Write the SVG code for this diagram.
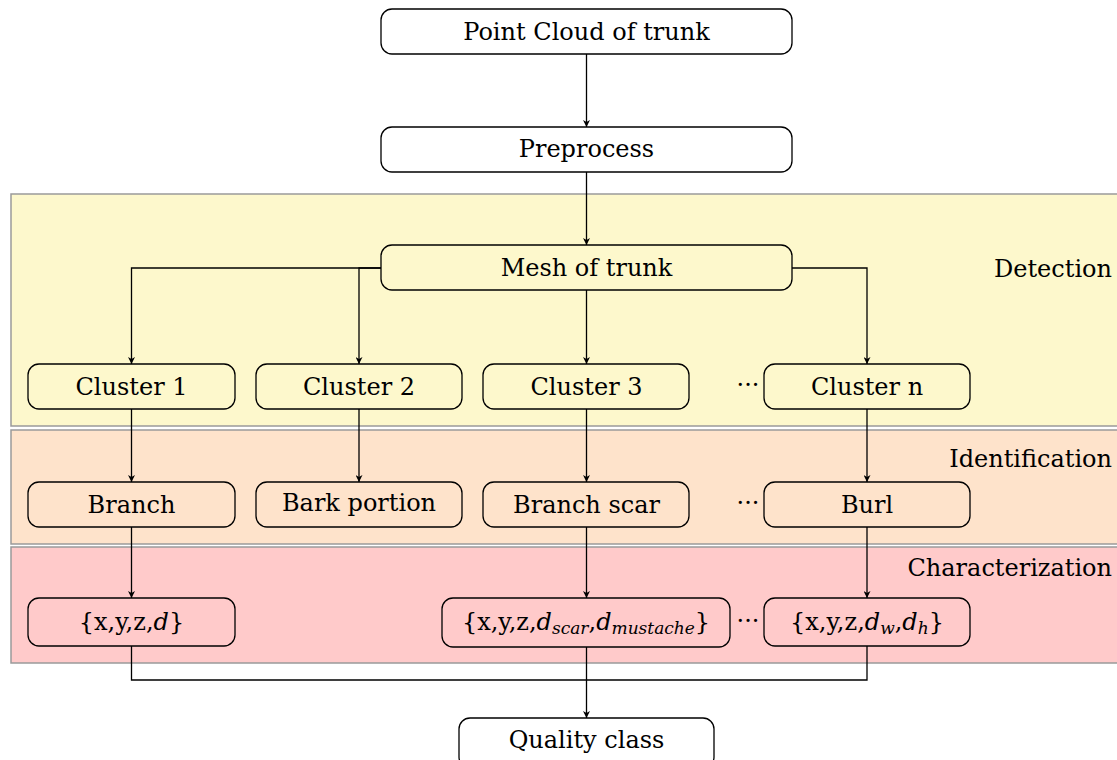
<svg xmlns="http://www.w3.org/2000/svg" width="1117" height="760" viewBox="0 0 1117 760">
<defs>
<style>
.band{stroke:#9a9a9a;stroke-width:1.5}
.node rect{stroke:#000;stroke-width:1.3}
.lbl{font-size:24px;fill:#000}
.mid{text-anchor:middle}
.end{text-anchor:end}
.c{fill:none;stroke:#000;stroke-width:1.3}
.it{font-style:italic}
.sub{font-size:17px;font-style:italic}
</style>
<marker id="ah" viewBox="0 0 10 10" refX="10" refY="5" markerWidth="8" markerHeight="7" markerUnits="userSpaceOnUse" orient="auto">
<path d="M0,0 L10,5 L0,10 L3,5 z" fill="#000"/>
</marker>
</defs>
<rect width="1117" height="760" fill="#fff"/>
<g font-family="'DejaVu Serif', 'Liberation Serif', serif">
<g id="bands">
<rect class="band" x="11" y="194" width="1130" height="232" fill="#fdf8cc"/>
<rect class="band" x="11" y="430" width="1130" height="114" fill="#fee3cb"/>
<rect class="band" x="11" y="547" width="1130" height="116" fill="#ffcaca"/>
<text class="lbl end" x="1112" y="277">Detection</text>
<text class="lbl end" x="1112" y="467">Identification</text>
<text class="lbl end" x="1112" y="576">Characterization</text>
</g>
<g id="connectors">
<path class="c" d="M586.5,54 V127" marker-end="url(#ah)"/>
<path class="c" d="M586.5,172 V245" marker-end="url(#ah)"/>
<path class="c" d="M381,268 H131.5 V364" marker-end="url(#ah)"/>
<path class="c" d="M381,268 H359 V364" marker-end="url(#ah)"/>
<path class="c" d="M586.5,290 V364" marker-end="url(#ah)"/>
<path class="c" d="M792,268 H867 V364" marker-end="url(#ah)"/>
<path class="c" d="M131.5,409 V482" marker-end="url(#ah)"/>
<path class="c" d="M359,409 V482" marker-end="url(#ah)"/>
<path class="c" d="M586.5,409 V482" marker-end="url(#ah)"/>
<path class="c" d="M867,409 V482" marker-end="url(#ah)"/>
<path class="c" d="M131.5,527 V598" marker-end="url(#ah)"/>
<path class="c" d="M586.5,527 V598" marker-end="url(#ah)"/>
<path class="c" d="M867,527 V598" marker-end="url(#ah)"/>
<path class="c" d="M131.5,646 V680 H586.5"/>
<path class="c" d="M867,646 V680 H586.5"/>
<path class="c" d="M586.5,647 V718" marker-end="url(#ah)"/>
</g>
<g id="n-pointcloud" class="node"><rect x="381" y="9" width="411" height="45" rx="11" fill="#fff"/><text class="lbl mid" x="586.5" y="40">Point Cloud of trunk</text></g>
<g id="n-preprocess" class="node"><rect x="381" y="127" width="411" height="45" rx="11" fill="#fff"/><text class="lbl mid" x="586.5" y="157">Preprocess</text></g>
<g id="n-mesh" class="node"><rect x="381" y="245" width="411" height="45" rx="11" fill="#fdf8cc"/><text class="lbl mid" x="586.5" y="276">Mesh of trunk</text></g>
<g id="n-cluster1" class="node"><rect x="28" y="364" width="207" height="45" rx="11" fill="#fdf8cc"/><text class="lbl mid" x="131.5" y="395">Cluster 1</text></g>
<g id="n-cluster2" class="node"><rect x="256" y="364" width="206" height="45" rx="11" fill="#fdf8cc"/><text class="lbl mid" x="359" y="395">Cluster 2</text></g>
<g id="n-cluster3" class="node"><rect x="483" y="364" width="206" height="45" rx="11" fill="#fdf8cc"/><text class="lbl mid" x="586.5" y="395">Cluster 3</text></g>
<g id="n-clustern" class="node"><rect x="764" y="364" width="206" height="45" rx="11" fill="#fdf8cc"/><text class="lbl mid" x="867" y="395">Cluster n</text></g>
<g id="n-branch" class="node"><rect x="28" y="482" width="207" height="45" rx="11" fill="#fee3cb"/><text class="lbl mid" x="131.5" y="513">Branch</text></g>
<g id="n-bark" class="node"><rect x="256" y="482" width="206" height="45" rx="11" fill="#fee3cb"/><text class="lbl mid" x="359" y="511">Bark portion</text></g>
<g id="n-scar" class="node"><rect x="483" y="482" width="206" height="45" rx="11" fill="#fee3cb"/><text class="lbl mid" x="586.5" y="513">Branch scar</text></g>
<g id="n-burl" class="node"><rect x="764" y="482" width="206" height="45" rx="11" fill="#fee3cb"/><text class="lbl mid" x="867" y="513">Burl</text></g>
<g id="n-char1" class="node"><rect x="28" y="598" width="207" height="48" rx="11" fill="#ffcaca"/><text class="lbl mid" x="131.5" y="630">{x,y,z,<tspan class="it">d</tspan>}</text></g>
<g id="n-char2" class="node"><rect x="442" y="598" width="288" height="49" rx="11" fill="#ffcaca"/><text class="lbl mid" x="586" y="630">{x,y,z,<tspan class="it">d</tspan><tspan class="sub" dy="4">scar</tspan><tspan dy="-4">,</tspan><tspan class="it">d</tspan><tspan class="sub" dy="4">mustache</tspan><tspan dy="-4">}</tspan></text></g>
<g id="n-char3" class="node"><rect x="764" y="598" width="206" height="48" rx="11" fill="#ffcaca"/><text class="lbl mid" x="867" y="630">{x,y,z,<tspan class="it">d</tspan><tspan class="sub" dy="4">w</tspan><tspan dy="-4">,</tspan><tspan class="it">d</tspan><tspan class="sub" dy="4">h</tspan><tspan dy="-4">}</tspan></text></g>
<g id="n-quality" class="node"><rect x="459" y="718" width="255" height="50" rx="11" fill="#fff"/><text class="lbl mid" x="586.5" y="748">Quality class</text></g>
<g id="dots">
<text class="lbl mid" x="748" y="393">···</text>
<text class="lbl mid" x="748" y="511">···</text>
<text class="lbl mid" x="748" y="629">···</text>
</g>
</g>
</svg>
